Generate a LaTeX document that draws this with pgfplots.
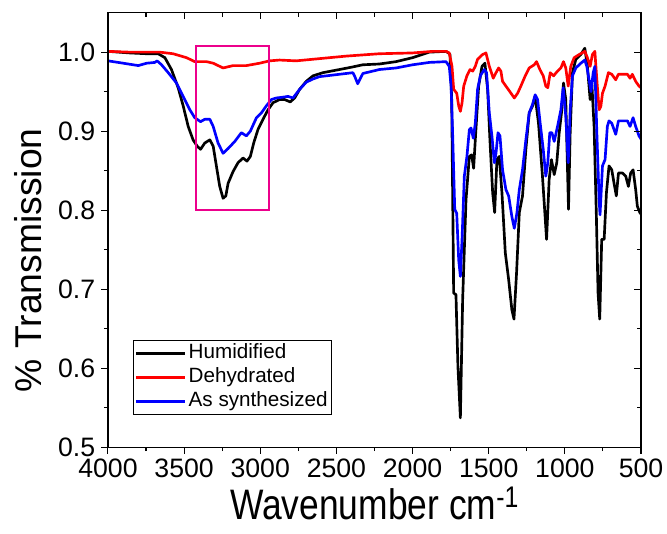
\documentclass[border=0pt]{standalone}
\usepackage{fontspec}
\setmainfont{Liberation Sans}
\usepackage{graphicx}
\usepackage{pgfplots}
\pgfplotsset{compat=1.18}

\pgfplotsset{
  ftir/.style={
    scale only axis, width=400pt, height=326pt,
    x dir=reverse, xmin=500, xmax=4000, ymin=0.5, ymax=1.05,
    xtick={500,1000,1500,2000,2500,3000,3500,4000},
    ytick={0.5,0.6,0.7,0.8,0.9,1.0},
    minor x tick num=1, minor y tick num=1,
    major tick length=5pt, minor tick length=3pt,
    axis line style={line width=0.9pt},
    every tick/.style={black, line width=0.8pt},
  }
}

\begin{document}
\begin{tikzpicture}
\begin{axis}[
  ftir,
  tick align=outside, xtick pos=bottom, ytick pos=left,
  /pgf/number format/assume math mode=true,
  ticklabel style={font=\fontsize{20}{22}\selectfont},
  xticklabel style={inner ysep=0pt, text depth=0pt, yshift=-4pt, /pgf/number format/1000 sep={}},
  yticklabel style={inner ysep=0pt, text depth=0pt, xshift=-1pt,
    /pgf/number format/.cd, fixed, fixed zerofill, precision=1},
  xlabel={\scalebox{0.83}[1]{Wavenumber cm\textsuperscript{-1}}},
  ylabel={\% Transmission},
  xlabel style={font=\fontsize{32}{34}\selectfont, at={(axis description cs:0.5,0)},
    anchor=base, inner sep=0pt, yshift=-54pt},
  ylabel style={font=\fontsize{28}{30}\selectfont, at={(axis description cs:-0.15,0.43)},
    anchor=center},
  legend cell align=left,
  legend style={at={(0.047,0.247)}, anchor=north west, draw=black, line width=0.6pt,
    font=\fontsize{15.5}{18}\selectfont, inner sep=1pt, row sep=0pt,
    nodes={inner sep=1.5pt, text height=11.5pt, text depth=3.5pt}},
  legend image code/.code={\draw[#1] (0cm,0cm) -- (1.3cm,0cm);},
]
\addplot[black, line width=2pt, line join=round] coordinates {
(4000,1.001) (3856,0.999) (3746,0.998) (3670,0.998) (3626,0.993) (3583,0.978)
(3539,0.955) (3506,0.932) (3473,0.906) (3441,0.889) (3414,0.881) (3392,0.877)
(3364,0.885) (3331,0.889) (3309,0.881) (3288,0.856) (3266,0.830) (3244,0.815)
(3226,0.818) (3211,0.834) (3178,0.849) (3146,0.860) (3113,0.866) (3087,0.862)
(3065,0.868) (3043,0.885) (3015,0.902) (2982,0.915) (2949,0.927) (2916,0.936)
(2873,0.940) (2840,0.940) (2803,0.937) (2774,0.942) (2741,0.953) (2698,0.963)
(2654,0.970) (2589,0.974) (2480,0.978) (2400,0.981) (2327,0.984) (2218,0.985)
(2108,0.988) (2000,0.993) (1890,1.000) (1780,1.001) (1765,0.999) (1754,0.997)
(1743,0.940) (1730,0.695) (1715,0.693) (1702,0.602) (1686,0.537) (1671,0.687)
(1649,0.813) (1627,0.868) (1612,0.870) (1599,0.853) (1584,0.902) (1566,0.957)
(1544,0.982) (1525,0.986) (1507,0.953) (1492,0.889) (1474,0.822) (1461,0.797)
(1446,0.864) (1431,0.868) (1413,0.822) (1391,0.746) (1369,0.712) (1348,0.674)
(1334,0.662) (1317,0.721) (1299,0.797) (1278,0.818) (1256,0.877) (1234,0.923)
(1212,0.932) (1195,0.944) (1173,0.910) (1147,0.843) (1120,0.763) (1103,0.839)
(1088,0.864) (1070,0.845) (1053,0.860) (1037,0.898) (1020,0.927) (1009,0.961)
(994,0.940) (976,0.801) (965,0.898) (950,0.974) (928,0.991) (895,0.997)
(869,1.005) (852,0.982) (834,0.940) (823,0.961) (808,0.906) (793,0.792)
(782,0.695) (771,0.662) (758,0.763) (742,0.763) (727,0.822) (710,0.856)
(692,0.851) (677,0.834) (662,0.818) (648,0.847) (622,0.847) (600,0.843)
(583,0.830) (568,0.847) (552,0.851) (535,0.826) (524,0.805) (508,0.797) (500,0.795)
};
\addlegendentry{Humidified}
\addplot[red, line width=2pt, line join=round] coordinates {
(4000,1.001) (3856,1.000) (3659,1.000) (3572,0.998) (3484,0.993) (3430,0.988)
(3353,0.988) (3309,0.986) (3244,0.980) (3178,0.983) (3091,0.983) (3004,0.986)
(2938,0.989) (2873,0.990) (2764,0.989) (2655,0.991) (2436,0.995) (2218,0.998)
(2000,0.999) (1868,1.001) (1780,1.001) (1759,0.999) (1741,0.982) (1730,0.953)
(1710,0.948) (1697,0.932) (1686,0.925) (1675,0.936) (1664,0.957) (1643,0.970)
(1623,0.978) (1605,0.976) (1588,0.982) (1573,0.991) (1540,0.997) (1518,0.999)
(1496,0.982) (1470,0.967) (1452,0.974) (1435,0.980) (1420,0.976) (1409,0.963)
(1387,0.957) (1361,0.950) (1332,0.942) (1310,0.948) (1289,0.957) (1260,0.970)
(1234,0.980) (1201,0.984) (1186,0.988) (1164,0.978) (1142,0.970) (1125,0.957)
(1112,0.955) (1096,0.974) (1074,0.970) (1048,0.976) (1026,0.980) (1009,0.988)
(994,0.980) (978,0.957) (961,0.982) (939,0.993) (906,0.997) (869,1.001)
(852,0.993) (834,0.982) (819,0.997) (803,1.001) (790,0.965) (775,0.927)
(764,0.931) (753,0.948) (736,0.957) (714,0.974) (692,0.972) (666,0.965)
(648,0.972) (622,0.972) (589,0.972) (572,0.967) (557,0.972) (535,0.963)
(513,0.957) (500,0.955)
};
\addlegendentry{Dehydrated}
\addplot[blue, line width=2pt, line join=round] coordinates {
(4000,0.989) (3899,0.986) (3801,0.983) (3746,0.986) (3692,0.987) (3677,0.989)
(3648,0.984) (3604,0.974) (3550,0.961) (3506,0.944) (3462,0.927) (3430,0.917)
(3392,0.912) (3364,0.915) (3331,0.915) (3309,0.906) (3277,0.885) (3244,0.872)
(3211,0.878) (3167,0.887) (3124,0.898) (3091,0.894) (3065,0.900) (3025,0.917)
(2993,0.923) (2960,0.932) (2927,0.940) (2894,0.942) (2851,0.943) (2818,0.944)
(2785,0.942) (2741,0.953) (2698,0.962) (2654,0.966) (2611,0.969) (2523,0.971)
(2436,0.973) (2392,0.974) (2381,0.970) (2360,0.960) (2342,0.967) (2326,0.973)
(2218,0.978) (2108,0.980) (2000,0.984) (1890,0.987) (1780,0.988) (1759,0.982)
(1747,0.957) (1737,0.898) (1723,0.801) (1710,0.796) (1697,0.737) (1686,0.716)
(1675,0.763) (1660,0.843) (1643,0.868) (1627,0.902) (1616,0.904) (1601,0.891)
(1588,0.910) (1573,0.953) (1555,0.970) (1529,0.978) (1514,0.974) (1496,0.923)
(1479,0.894) (1463,0.860) (1452,0.872) (1439,0.898) (1426,0.894) (1409,0.851)
(1387,0.826) (1369,0.818) (1348,0.792) (1332,0.777) (1315,0.796) (1299,0.826)
(1278,0.851) (1256,0.889) (1234,0.923) (1212,0.934) (1195,0.946) (1179,0.940)
(1162,0.910) (1142,0.877) (1125,0.843) (1112,0.860) (1099,0.898) (1085,0.898)
(1070,0.887) (1048,0.906) (1026,0.927) (1011,0.955) (994,0.919) (978,0.860)
(965,0.927) (950,0.970) (928,0.980) (895,0.986) (869,0.990) (856,0.982)
(841,0.965) (828,0.950) (814,0.974) (803,0.982) (790,0.898) (775,0.813)
(769,0.794) (753,0.856) (736,0.864) (721,0.906) (710,0.913) (692,0.910)
(666,0.896) (648,0.913) (618,0.913) (589,0.913) (572,0.906) (552,0.917)
(535,0.906) (513,0.894) (500,0.890)
};
\addlegendentry{As synthesized}
\draw[magenta, line width=1.6pt] (axis cs:3420,0.800) rectangle (axis cs:2945,1.008);
\end{axis}
% inward ticks on the top and right sides
\begin{axis}[
  ftir, tick align=inside, xtick pos=top, ytick pos=right,
  xticklabels={}, yticklabels={},
]
\end{axis}
\pgfresetboundingbox
\path[use as bounding box] (-81pt,-65pt) rectangle (419.5pt,335.5pt);
\end{tikzpicture}
\end{document}
